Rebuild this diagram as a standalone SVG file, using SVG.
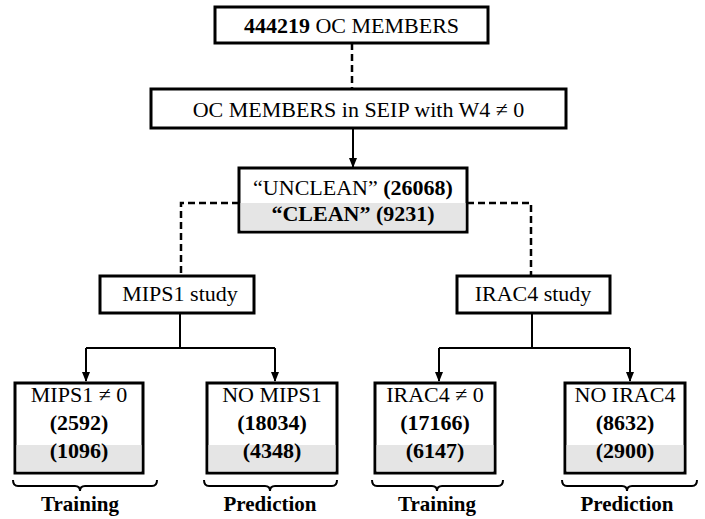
<svg xmlns="http://www.w3.org/2000/svg" width="705" height="519" viewBox="0 0 705 519">
<defs>
<marker id="ah" viewBox="0 0 10 10" refX="9" refY="5" markerWidth="10" markerHeight="10" markerUnits="userSpaceOnUse" orient="auto">
<path d="M0,1 L10,5 L0,9 Z" fill="#000"/>
</marker>
<style>
.box{fill:#fff;stroke:#000;stroke-width:3}
.gray{fill:#e5e5e5;stroke:none}
text{font-family:'Liberation Serif','Times New Roman','DejaVu Serif',serif;fill:#000;text-anchor:middle}
.t{font-size:22px}
.b{font-weight:bold}
.lbl{font-size:21px;font-weight:bold}
.ln{fill:none;stroke:#000;stroke-width:2}
.dash{fill:none;stroke:#000;stroke-width:2.5;stroke-dasharray:7,4}
</style>
</defs>
<rect width="705" height="519" fill="#fff"/>
<g id="connectors">
<line class="dash" x1="352" y1="43" x2="352" y2="89"/>
<line class="ln" x1="353" y1="128" x2="353" y2="167" marker-end="url(#ah)"/>
<polyline class="dash" points="239,203 181,203 181,276"/>
<polyline class="dash" points="467,203 531,203 531,276"/>
<polyline class="ln" points="180,313 180,348"/>
<polyline class="ln" points="86,348 275,348"/>
<line class="ln" x1="86" y1="348" x2="86" y2="381" marker-end="url(#ah)"/>
<line class="ln" x1="275" y1="348" x2="275" y2="381" marker-end="url(#ah)"/>
<polyline class="ln" points="532,313 532,348"/>
<polyline class="ln" points="439,348 630,348"/>
<line class="ln" x1="439" y1="348" x2="439" y2="381" marker-end="url(#ah)"/>
<line class="ln" x1="630" y1="348" x2="630" y2="381" marker-end="url(#ah)"/>
</g>
<g id="n-all">
<rect class="box" x="215" y="7" width="273" height="36"/>
<text class="t" x="351.5" y="33"><tspan class="b">444219</tspan> OC MEMBERS</text>
</g>
<g id="n-seip">
<rect class="box" x="151" y="89" width="415" height="39"/>
<text class="t" x="358.5" y="117">OC MEMBERS in SEIP with W4 ≠ 0</text>
</g>
<g id="n-clean">
<rect class="box" x="239" y="168" width="228" height="64"/>
<rect class="gray" x="240.5" y="203" width="225" height="27.5"/>
<text class="t" x="353" y="195">“UNCLEAN” <tspan class="b">(26068)</tspan></text>
<text class="t b" x="353" y="221">“CLEAN” (9231)</text>
</g>
<g id="n-mips">
<rect class="box" x="100" y="276" width="154" height="37"/>
<text class="t" x="180" y="301">MIPS1 study</text>
</g>
<g id="n-irac">
<rect class="box" x="457" y="276" width="153" height="37"/>
<text class="t" x="533" y="301">IRAC4 study</text>
</g>
<g id="n-mips-train">
<rect class="box" x="15" y="383" width="128" height="90"/>
<rect class="gray" x="16.5" y="445" width="125" height="26.5"/>
<text class="t" x="79" y="402">MIPS1 ≠ 0</text>
<text class="t b" x="79" y="430">(2592)</text>
<text class="t b" x="79" y="458">(1096)</text>
</g>
<g id="n-mips-pred">
<rect class="box" x="207" y="383" width="130" height="90"/>
<rect class="gray" x="208.5" y="445" width="127" height="26.5"/>
<text class="t" x="272" y="402">NO MIPS1</text>
<text class="t b" x="272" y="430">(18034)</text>
<text class="t b" x="272" y="458">(4348)</text>
</g>
<g id="n-irac-train">
<rect class="box" x="375" y="383" width="120" height="90"/>
<rect class="gray" x="376.5" y="445" width="117" height="26.5"/>
<text class="t" x="435" y="402">IRAC4 ≠ 0</text>
<text class="t b" x="435" y="430">(17166)</text>
<text class="t b" x="435" y="458">(6147)</text>
</g>
<g id="n-irac-pred">
<rect class="box" x="565" y="383" width="120" height="90"/>
<rect class="gray" x="566.5" y="445" width="117" height="26.5"/>
<text class="t" x="625" y="402">NO IRAC4</text>
<text class="t b" x="625" y="430">(8632)</text>
<text class="t b" x="625" y="458">(2900)</text>
</g>
<g id="braces">
<path class="ln" d="M13,480 Q13,486 18,486 L75,486 Q80,486 80,491 Q80,486 85,486 L152,486 Q157,486 157,480"/>
<path class="ln" d="M204,480 Q204,486 209,486 L265,486 Q270,486 270,491 Q270,486 275,486 L332,486 Q337,486 337,480"/>
<path class="ln" d="M372,480 Q372,486 377,486 L432,486 Q437,486 437,491 Q437,486 442,486 L498,486 Q503,486 503,480"/>
<path class="ln" d="M562,480 Q562,486 567,486 L622,486 Q627,486 627,491 Q627,486 632,486 L692,486 Q697,486 697,480"/>
</g>
<g id="labels">
<text class="lbl" x="80" y="511">Training</text>
<text class="lbl" x="270" y="511">Prediction</text>
<text class="lbl" x="437" y="511">Training</text>
<text class="lbl" x="627" y="511">Prediction</text>
</g>
</svg>
